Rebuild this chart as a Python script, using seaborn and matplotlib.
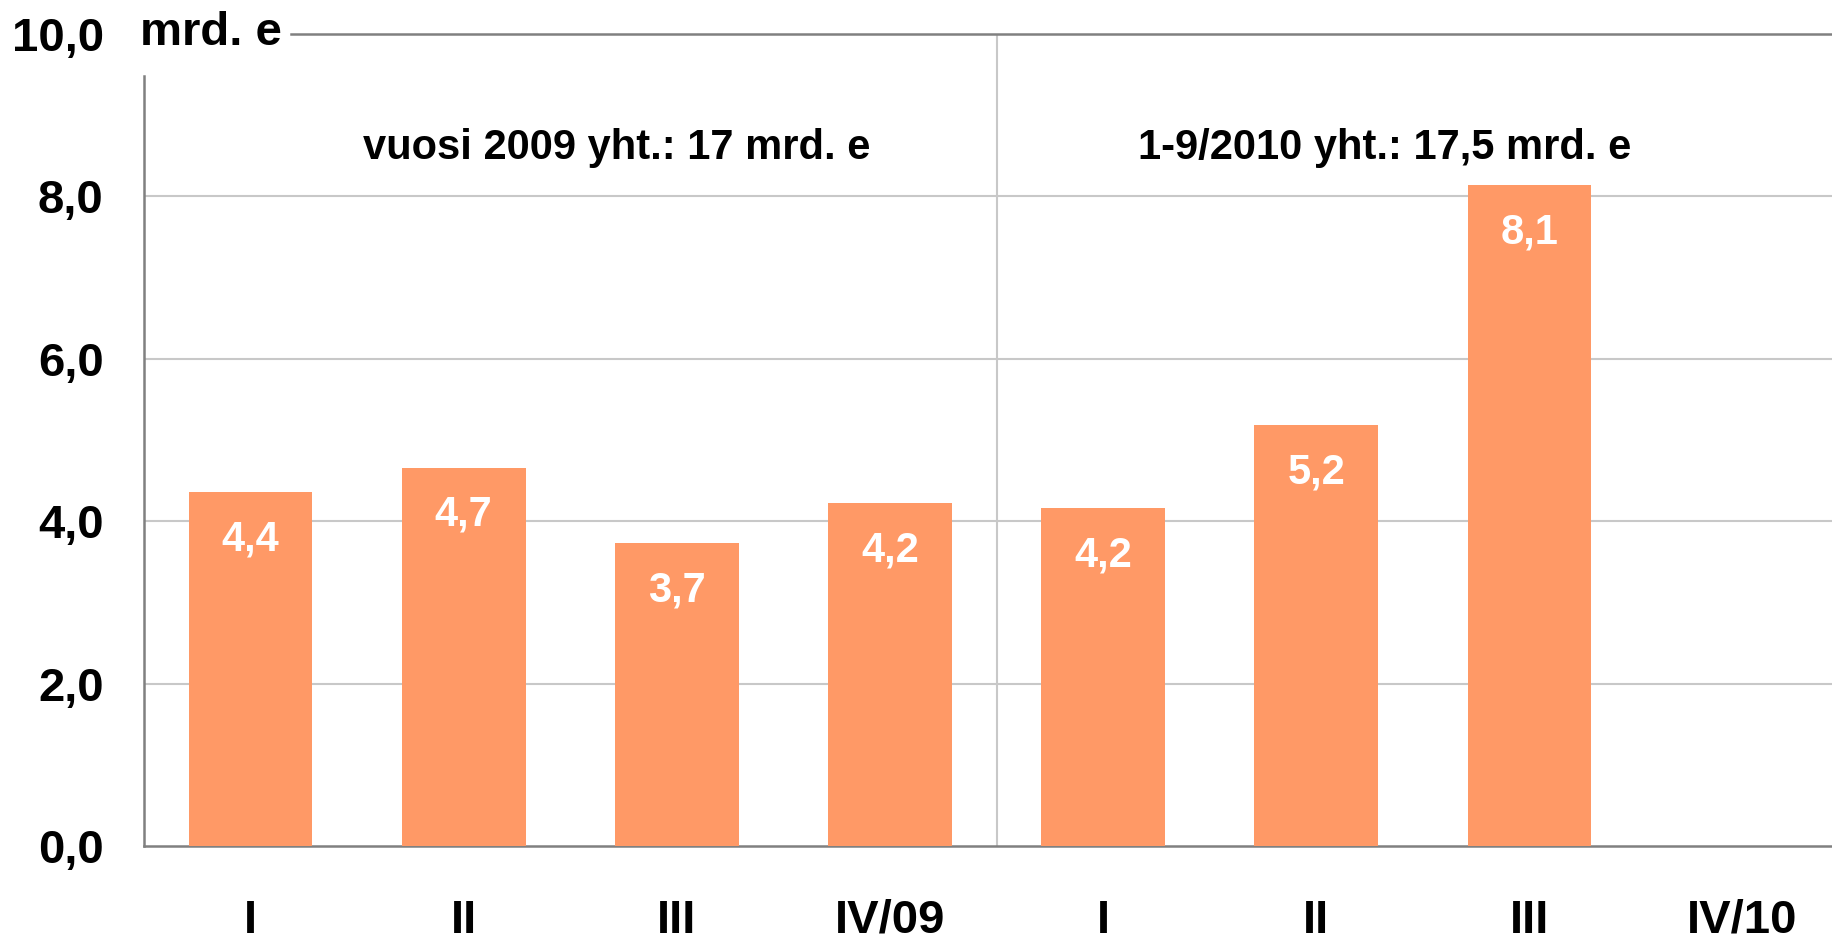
import numpy as np
import pandas as pd
import matplotlib
matplotlib.use("Agg")
import matplotlib.pyplot as plt
import seaborn as sns

# Data (mrd. e per quarter)
jaksot = ["I/09", "II/09", "III/09", "IV/09", "I/10", "II/10", "III/10", "IV/10"]
tick_labels = ["I", "II", "III", "IV/09", "I", "II", "III", "IV/10"]
arvot = [4.36, 4.66, 3.73, 4.22, 4.16, 5.18, 8.14, np.nan]
y_ticks = [0, 2, 4, 6, 8, 10]
huomautukset = ["vuosi 2009 yht.: 17 mrd. e", "1-9/2010 yht.: 17,5 mrd. e"]

df = pd.DataFrame({"jakso": jaksot, "arvo": arvot})

sns.set_style("white")
plt.rcParams["font.family"] = ["Liberation Sans", "DejaVu Sans"]
plt.rcParams["font.weight"] = "bold"
plt.rcParams["text.color"] = "black"
plt.rcParams["xtick.color"] = "black"
plt.rcParams["ytick.color"] = "black"

W, H = 1832, 940
fig = plt.figure(figsize=(W / 100, H / 100), dpi=100)
ax = fig.add_axes([144 / W, 94 / H, 1 - 144 / W, 812 / H])

sns.barplot(data=df, x="jakso", y="arvo", order=jaksot, color="#FF9966",
            saturation=1, width=0.58, linewidth=0, ax=ax, zorder=3)

ax.set_xlim(-0.5, 7.42)
ax.set_ylim(0, 10)

# gridlines
for y in y_ticks[1:-1]:
    ax.axhline(y, color="#C8C8C8", lw=1.5, zorder=1)
ax.axvline(3.5, color="#C8C8C8", lw=1.5, zorder=1)

# spines
ax.spines["right"].set_visible(False)
ax.spines["left"].set_color("#808080")
ax.spines["left"].set_linewidth(1.8)
ax.spines["left"].set_bounds(0, 9.48)
ax.spines["bottom"].set_color("#808080")
ax.spines["bottom"].set_linewidth(1.8)
ax.spines["top"].set_color("#808080")
ax.spines["top"].set_linewidth(1.8)
ax.spines["top"].set_bounds(0.19, 7.42)

ax.set_yticks(y_ticks)
ax.set_yticklabels([f"{v:.1f}".replace(".", ",") for v in y_ticks])
ax.set_xticks(range(len(jaksot)))
ax.set_xticklabels(tick_labels)
ax.tick_params(axis="y", length=0, pad=29, labelsize=34, labelcolor="black")
ax.tick_params(axis="x", length=0, pad=38, labelsize=34, labelcolor="black")
for lbl in ax.get_xticklabels() + ax.get_yticklabels():
    lbl.set_fontweight("bold")
ax.set_xlabel("")
ax.set_ylabel("")

# value labels inside bars
for i, v in enumerate(arvot):
    if np.isnan(v):
        continue
    ax.annotate(f"{v:.1f}".replace(".", ","), xy=(i, v), xytext=(0, -34),
                textcoords="offset points", ha="center", va="center",
                color="white", fontsize=30, fontweight="bold", zorder=4)

ax.text(1.72, 8.6, huomautukset[0], ha="center", va="center",
        fontsize=30, fontweight="bold", color="black")
ax.text(5.32, 8.6, huomautukset[1], ha="center", va="center",
        fontsize=30, fontweight="bold", color="black")

fig.text(140 / W, 1 - 45 / H, "mrd. e", ha="left", va="baseline",
         fontsize=34, fontweight="bold", color="black")

fig.savefig("out.png", dpi=100)
